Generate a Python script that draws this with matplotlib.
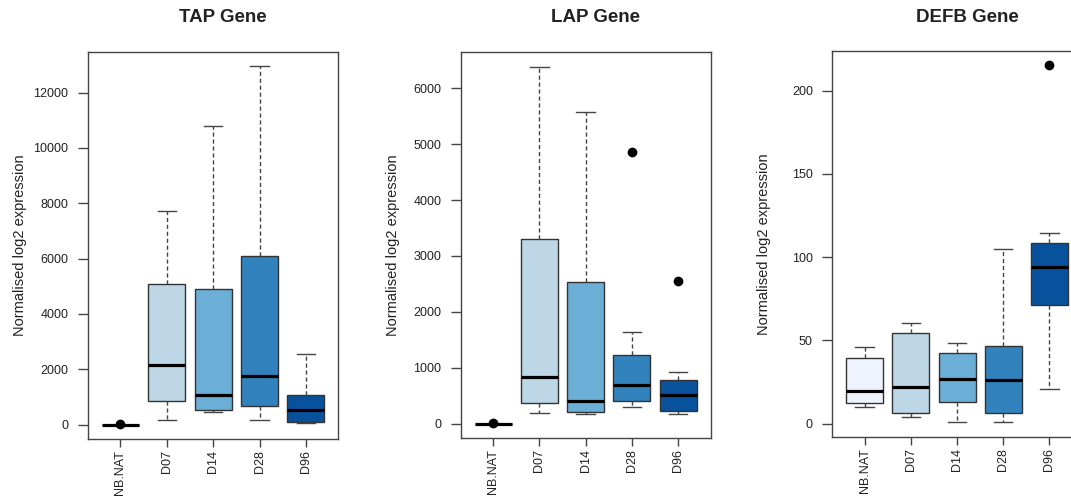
import matplotlib
matplotlib.use('Agg')
import matplotlib.pyplot as plt

plt.rcParams['font.family'] = ['Liberation Sans', 'DejaVu Sans']

# 그룹 / 색상 (RColorBrewer Blues 5)
groups = ['NB.NAT', 'D07', 'D14', 'D28', 'D96']
colors = ['#EFF3FF', '#BDD7E7', '#6BAED6', '#3182BD', '#08519C']

# TAP
tap_low = [0, 165, 440, 165, 45]
tap_q1 = [0, 843, 525, 690, 110]
tap_med = [0, 2145, 1075, 1775, 540]
tap_q3 = [0, 5095, 4910, 6105, 1085]
tap_high = [0, 7730, 10800, 12960, 2555]
tap_out = [[10], [], [], [], []]
tap_ticks = [0, 2000, 4000, 6000, 8000, 10000, 12000]

# LAP
lap_low = [0, 190, 168, 298, 180]
lap_q1 = [0, 375, 214, 399, 226]
lap_med = [0, 827, 405, 685, 512]
lap_q3 = [0, 3298, 2536, 1226, 780]
lap_high = [0, 6387, 5571, 1649, 917]
lap_out = [[10], [], [], [4851], [2554]]
lap_ticks = [0, 1000, 2000, 3000, 4000, 5000, 6000]

# DEFB
defb_low = [10.0, 4.0, 0.8, 0.8, 21.0]
defb_q1 = [12.4, 6.4, 13.0, 6.4, 71.2]
defb_med = [19.6, 22.0, 27.0, 26.0, 94.1]
defb_q3 = [39.4, 54.6, 42.6, 46.4, 108.3]
defb_high = [46.0, 60.2, 48.2, 105.2, 114.3]
defb_out = [[], [], [], [], [215.2]]
defb_ticks = [0, 50, 100, 150, 200]

panels = [
    ('TAP Gene', tap_low, tap_q1, tap_med, tap_q3, tap_high, tap_out, tap_ticks,
     [88, 51.7, 338.3, 439]),
    ('LAP Gene', lap_low, lap_q1, lap_med, lap_q3, lap_high, lap_out, lap_ticks,
     [460.7, 52.3, 710.5, 438]),
    ('DEFB Gene', defb_low, defb_q1, defb_med, defb_q3, defb_high, defb_out, defb_ticks,
     [832.3, 51, 1081.8, 436.7]),
]

W, H = 1071, 500
fig = plt.figure(figsize=(W / 100, H / 100), dpi=100)

for title, lo, q1, med, q3, hi, out, ticks, box in panels:
    l, t, r, b = box
    ax = fig.add_axes([l / W, (H - b) / H, (r - l) / W, (b - t) / H])

    stats = []
    for i in range(len(groups)):
        stats.append({'whislo': lo[i], 'q1': q1[i], 'med': med[i], 'q3': q3[i],
                      'whishi': hi[i], 'fliers': out[i]})
    bp = ax.bxp(stats, positions=range(1, 6), widths=0.8, capwidths=0.4,
                patch_artist=True,
                boxprops=dict(edgecolor='#333333', linewidth=1),
                medianprops=dict(color='black', linewidth=2.3, solid_capstyle='butt'),
                whiskerprops=dict(color='#444444', linewidth=1, linestyle=(0, (3, 2))),
                capprops=dict(color='#444444', linewidth=1),
                flierprops=dict(marker='o', markerfacecolor='black',
                                markeredgecolor='black', markersize=6))
    for patch, c in zip(bp['boxes'], colors):
        patch.set_facecolor(c)

    # R식 축 범위 (4% 여백)
    allv = lo + hi + [v for o in out for v in o]
    vmin, vmax = min(allv), max(allv)
    pad = 0.04 * (vmax - vmin)
    ax.set_ylim(vmin - pad, vmax + pad)
    ax.set_xlim(0.3, 5.7)

    ax.set_yticks(ticks)
    ax.set_yticklabels([str(v) for v in ticks], fontsize=9, color='#222222')
    ax.set_xticks(range(1, 6))
    ax.set_xticklabels(groups, rotation=90, fontsize=9, color='#222222')
    ax.tick_params(axis='y', length=7, width=1, color='#444444', pad=7)
    ax.tick_params(axis='x', length=6, width=1, color='#444444', pad=2)
    for s in ax.spines.values():
        s.set_color('#444444')
        s.set_linewidth(1)

    ax.set_ylabel('Normalised log2 expression', fontsize=10.5, color='#222222', va='center')
    ax.yaxis.set_label_coords(-68 / (r - l), 0.5)

    fig.text((l + r) / 2 / W + 10 / W, 1 - 18 / H, title, fontsize=13.5,
             fontweight='bold', ha='center', va='center', color='#222222')

fig.savefig('out.png', dpi=100)
